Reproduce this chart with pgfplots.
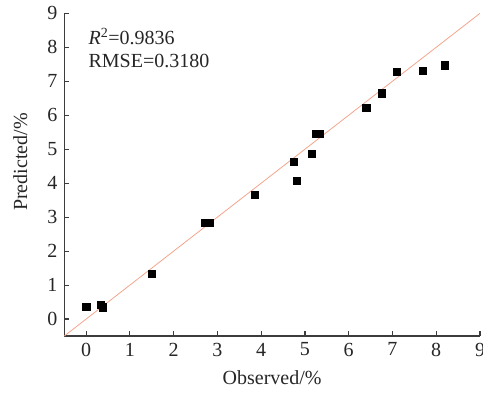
\documentclass[border=0pt]{standalone}
\usepackage{pgfplots}
\pgfplotsset{compat=1.18}
\usepackage{fontspec}
\setmainfont{Liberation Serif}
\definecolor{fitline}{RGB}{243,165,140}
\definecolor{axgray}{RGB}{60,60,60}
\begin{document}
\fontsize{20bp}{24bp}\selectfont
\begin{tikzpicture}[x=1bp,y=1bp]
\begin{axis}[
  at={(0,0)}, anchor=south west,
  scale only axis,
  width=415.7bp, height=322.7bp,
  xmin=-0.5, xmax=9, ymin=-0.5, ymax=9,
  axis x line*=bottom, axis y line*=left,
  axis line style={axgray, line width=1.2bp},
  tick style={axgray, line width=1.1bp},
  tick align=inside,
  major tick length=5bp,
  xtick={0,1,...,9}, ytick={0,1,...,9},
  /pgf/number format/assume math mode=true,
  ticklabel style={font=\fontsize{20bp}{24bp}\selectfont, text=black!85},
  label style={font=\fontsize{20bp}{24bp}\selectfont, text=black!85},
  xlabel={Observed/\%},
  ylabel={Predicted/\%},
  xlabel style={at={(axis cs:4.25,-0.5)}, anchor=north, yshift=-28bp},
  ylabel style={at={(axis cs:-0.5,4.62)}, anchor=south, rotate=0, yshift=30bp},
  clip=false,
]
\addplot[fitline, line width=0.8bp] coordinates {(-0.5,-0.5) (9,9)};
\addplot[only marks, mark=square*, mark size=3.6bp, mark options={fill=black, draw=black}] coordinates {
(8.20,7.47) (7.69,7.30) (7.10,7.27) (6.76,6.65) (6.40,6.21)
(5.33,5.46) (5.24,5.45) (5.15,4.87) (4.75,4.64) (4.82,4.08)
(3.85,3.65) (2.82,2.83) (2.70,2.83) (1.50,1.34) (0.33,0.43)
(0.38,0.35) (0.00,0.36)
};
\node[anchor=base west, inner sep=0pt, text=black!85] at (axis cs:0.05,8.07) {\textit{R}\textsuperscript{2}=0.9836};
\node[anchor=base west, inner sep=0pt, text=black!85] at (axis cs:0.05,7.39) {RMSE=0.3180};
\end{axis}
\pgfresetboundingbox
\path[use as bounding box] (-64.3,-62) rectangle (418.7,336);
\end{tikzpicture}
\end{document}
